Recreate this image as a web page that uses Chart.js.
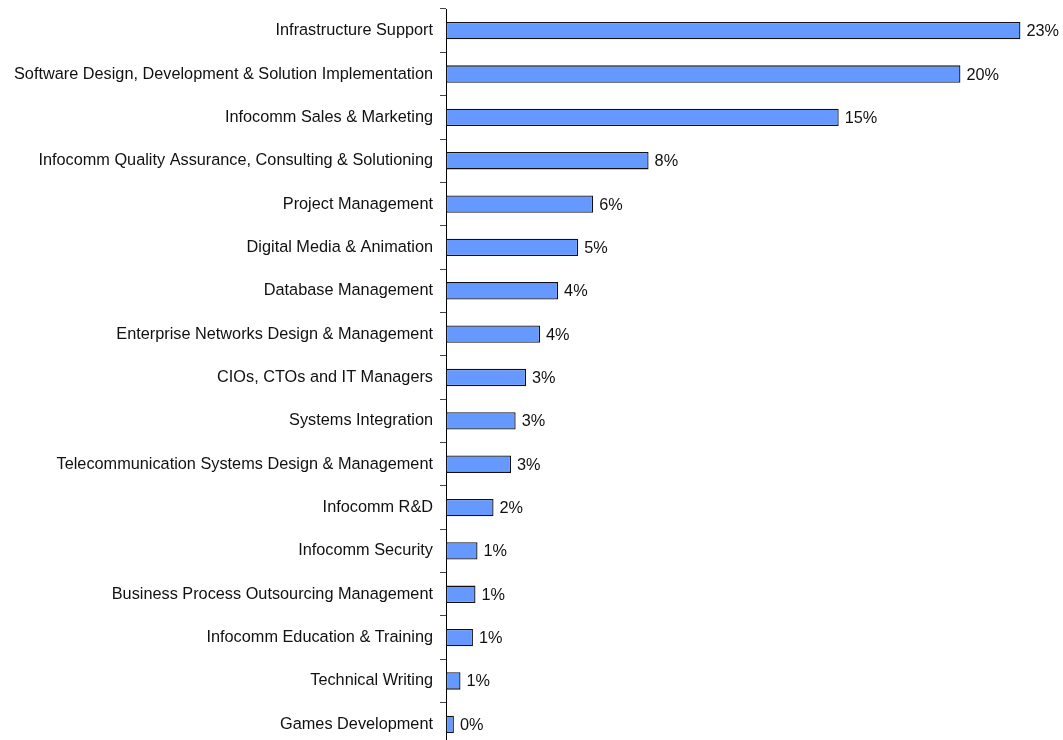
<!DOCTYPE html>
<html>
<head>
<meta charset="utf-8">
<script src="https://cdn.jsdelivr.net/npm/chart.js@4/dist/chart.umd.min.js"></script>
<style>
  html, body { margin: 0; padding: 0; background: #fff; overflow: hidden; }
  #wrap { position: relative; width: 1063px; height: 746px; }
</style>
</head>
<body>
<div id="wrap"><canvas id="chart-roles"></canvas></div>
<script>
// ── Data ─────────────────────────────────────────────
const roles = [
  'Infrastructure Support',
  'Software Design, Development & Solution Implementation',
  'Infocomm Sales & Marketing',
  'Infocomm Quality Assurance, Consulting & Solutioning',
  'Project Management',
  'Digital Media & Animation',
  'Database Management',
  'Enterprise Networks Design & Management',
  'CIOs, CTOs and IT Managers',
  'Systems Integration',
  'Telecommunication Systems Design & Management',
  'Infocomm R&D',
  'Infocomm Security',
  'Business Process Outsourcing Management',
  'Infocomm Education & Training',
  'Technical Writing',
  'Games Development'
];
const shares = [22.6, 20.24, 15.45, 7.97, 5.79, 5.2, 4.41, 3.7, 3.15, 2.74, 2.56, 1.87, 1.24, 1.16, 1.06, 0.57, 0.31];
const xMax = 24;

const FONT = { family: '"Liberation Sans", Arial, sans-serif', size: 16.3 };

// ── Value labels at bar ends ─────────────────────────
const barLabels = {
  id: 'barLabels',
  afterDatasetsDraw(chart) {
    const { ctx } = chart;
    const meta = chart.getDatasetMeta(0);
    ctx.save();
    ctx.font = `${FONT.size}px ${FONT.family}`;
    ctx.fillStyle = '#111';
    ctx.textAlign = 'left';
    ctx.textBaseline = 'middle';
    meta.data.forEach((bar, i) => {
      ctx.fillText(Math.round(shares[i]) + '%', bar.x + 6, bar.y + 1);
    });
    ctx.restore();
  }
};

// ── Chart ────────────────────────────────────────────
new Chart(document.getElementById('chart-roles'), {
  type: 'bar',
  data: {
    labels: roles,
    datasets: [{
      data: shares,
      backgroundColor: '#6699ff',
      borderColor: '#111',
      borderWidth: 1.3,
      borderSkipped: false,
      barPercentage: 0.4,
      categoryPercentage: 1
    }]
  },
  options: {
    indexAxis: 'y',
    responsive: true,
    maintainAspectRatio: false,
    animation: false,
    layout: { padding: { top: 9, right: 7, bottom: 0, left: 0 } },
    plugins: { legend: { display: false }, tooltip: { enabled: false } },
    scales: {
      x: { display: false, min: 0, max: xMax },
      y: {
        offset: true,
        afterFit: s => { s.width = 446; s.paddingTop = 0; s.paddingBottom = 0; },
        border: { display: true, color: '#000', width: 1 },
        grid: { offset: true, drawOnChartArea: false, drawTicks: true, tickLength: 6, color: '#444' },
        ticks: { color: '#111', font: FONT, padding: 7, autoSkip: false }
      }
    }
  },
  plugins: [barLabels]
});
</script>
</body>
</html>
